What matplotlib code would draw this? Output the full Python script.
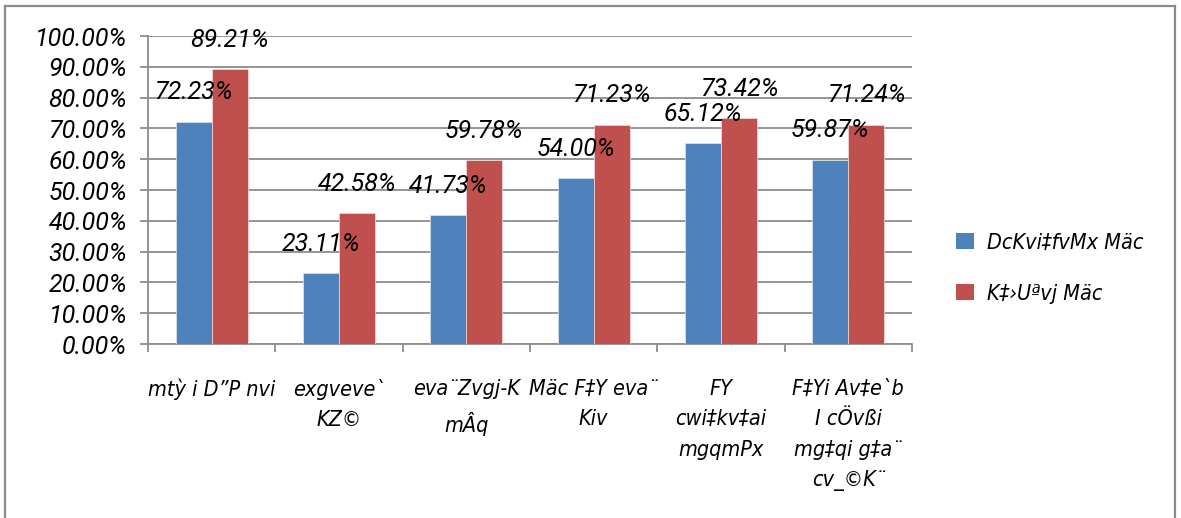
import matplotlib
matplotlib.use("Agg")
import matplotlib.pyplot as plt
from matplotlib.lines import Line2D
from matplotlib.patches import Patch
from matplotlib.ticker import FuncFormatter, MultipleLocator, FixedLocator
from matplotlib import font_manager
import numpy as np

categories = [
    "mtỳ i D”P nvi",
    "exgveve`\nKZ©",
    "eva¨Zvgj-K\nmÂq",
    "Mäc F‡Y eva¨\nKiv",
    "FY\ncwi‡kv‡ai\nmgqmPx",
    "F‡Yi Av‡e`b\nI cÖvßi\nmg‡qi g‡a¨\ncv_©K¨",
]
series_names = ["DcKvi‡fvMx Mäc", "K‡›Uªvj Mäc"]
beneficiary = [72.23, 23.11, 41.73, 54.00, 65.12, 59.87]
control = [89.21, 42.58, 59.78, 71.23, 73.42, 71.24]

blue = "#4F81BD"
red = "#C0504D"
gray = "#8c8c8c"

numfont = ["Roboto", "DejaVu Sans"]
narrow_prop = font_manager.FontProperties(family="DejaVu Sans", style="oblique",
                                          stretch="condensed", size=15.5)

fig = plt.figure(figsize=(11.81, 5.18), dpi=100)
ax = fig.add_axes([148 / 1181, 174 / 518, 764 / 1181, 308 / 518])

x = np.arange(len(categories))
w = 0.283
b1 = ax.bar(x - w / 2, beneficiary, w, color=blue, edgecolor="#dce6f2", linewidth=0.5, zorder=3)
b2 = ax.bar(x + w / 2, control, w, color=red, edgecolor="#f2dcdb", linewidth=0.5, zorder=3)

for bars, vals in ((b1, beneficiary), (b2, control)):
    for rect, v in zip(bars, vals):
        ax.annotate(f"{v:.2f}%", (rect.get_x() + rect.get_width() / 2, v),
                    xytext=(0, 21), textcoords="offset points",
                    ha="center", va="center", fontsize=18, style="italic",
                    family=numfont, zorder=5)

ax.set_ylim(0, 100)
ax.set_xlim(-0.5, len(categories) - 0.5)
ax.yaxis.set_major_locator(MultipleLocator(10))
ax.yaxis.set_major_formatter(FuncFormatter(lambda v, p: f"{v:.2f}%"))
ax.grid(axis="y", color=gray, linewidth=1.3, zorder=0)
ax.set_axisbelow(True)

for s in ("top", "right"):
    ax.spines[s].set_visible(False)
for s in ("left", "bottom"):
    ax.spines[s].set_color(gray)
    ax.spines[s].set_linewidth(1.3)

ax.tick_params(axis="y", length=6, width=1.3, color=gray, pad=9)
for lab in ax.get_yticklabels():
    lab.set_fontsize(18)
    lab.set_style("italic")
    lab.set_family(numfont)

ax.set_xticks(x)
ax.set_xticklabels(categories)
ax.xaxis.set_minor_locator(FixedLocator(np.arange(len(categories) + 1) - 0.5))
ax.tick_params(axis="x", which="major", length=0, pad=25)
ax.tick_params(axis="x", which="minor", length=6, width=1.3, color=gray)
for lab in ax.get_xticklabels():
    lab.set_fontproperties(narrow_prop)
    lab.set_multialignment("center")
    lab.set_linespacing(1.65)

handles = [Patch(facecolor=blue), Patch(facecolor=red)]
leg = fig.legend(handles, series_names, loc="center left",
                 bbox_to_anchor=(937 / 1181, 1 - 268 / 518),
                 frameon=False, handlelength=0.8, handleheight=0.8,
                 handletextpad=0.6, labelspacing=1.45,
                 prop=narrow_prop)

# outer border
fig.add_artist(Line2D([5 / 1181, 5 / 1181], [0, 1 - 6 / 518], transform=fig.transFigure, color=gray, linewidth=1.6))
fig.add_artist(Line2D([5 / 1181, 1175 / 1181], [1 - 6 / 518, 1 - 6 / 518], transform=fig.transFigure, color=gray, linewidth=1.6))
fig.add_artist(Line2D([1175 / 1181, 1175 / 1181], [0, 1 - 6 / 518], transform=fig.transFigure, color=gray, linewidth=1.6))

fig.savefig("out.png", dpi=100)
